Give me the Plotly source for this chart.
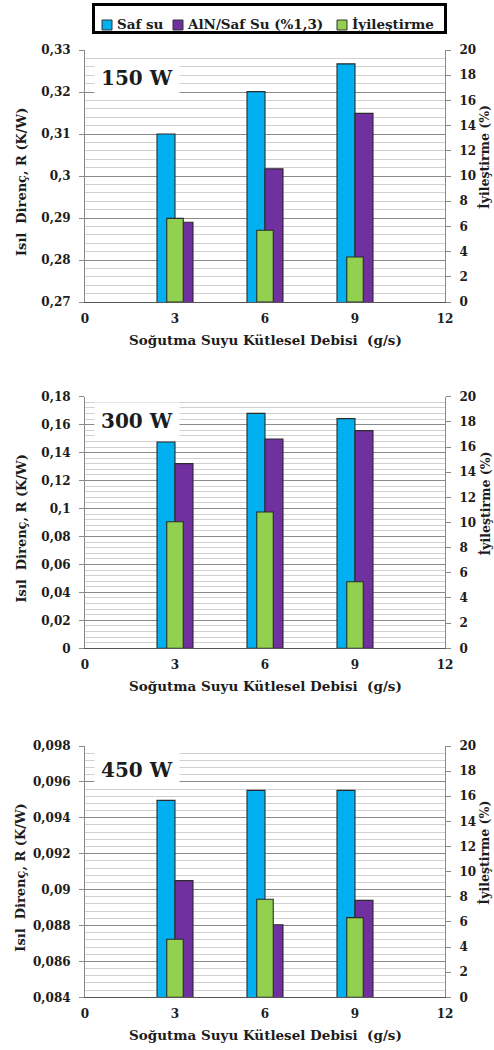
import plotly.graph_objects as go

# Cooling water mass flow rate (g/s)
flow = [3, 6, 9]

# Thermal resistance R (K/W) for pure water and AlN/water nanofluid, improvement (%)
saf_su_150 = [0.3100, 0.3201, 0.3267]
aln_150 = [0.2890, 0.3017, 0.3149]
iyil_150 = [6.64, 5.69, 3.57]

saf_su_300 = [0.1476, 0.1681, 0.1643]
aln_300 = [0.1321, 0.1497, 0.1557]
iyil_300 = [10.06, 10.83, 5.29]

saf_su_450 = [0.09497, 0.09553, 0.09553]
aln_450 = [0.0905, 0.08804, 0.0894]
iyil_450 = [4.62, 7.80, 6.34]

power_labels = ["150 W", "300 W", "450 W"]

# Left axis ticks per panel
r_ticks_150 = [0.27, 0.28, 0.29, 0.30, 0.31, 0.32, 0.33]
r_text_150 = ["0,27", "0,28", "0,29", "0,3", "0,31", "0,32", "0,33"]
r_ticks_300 = [0, 0.02, 0.04, 0.06, 0.08, 0.10, 0.12, 0.14, 0.16, 0.18]
r_text_300 = ["0", "0,02", "0,04", "0,06", "0,08", "0,1", "0,12", "0,14", "0,16", "0,18"]
r_ticks_450 = [0.084, 0.086, 0.088, 0.090, 0.092, 0.094, 0.096, 0.098]
r_text_450 = ["0,084", "0,086", "0,088", "0,09", "0,092", "0,094", "0,096", "0,098"]

x_ticks = [0, 3, 6, 9, 12]
pct_ticks = [0, 2, 4, 6, 8, 10, 12, 14, 16, 18, 20]

legend_names = ["Saf su", "AlN/Saf Su (%1,3)", "İyileştirme"]
colors = ["#00B0F0", "#7030A0", "#92D050"]

x_title = "Soğutma Suyu Kütlesel Debisi  (g/s)"
y_title = "Isıl  Direnç, R (K/W)"
y2_title = "İyileştirme (%)"

W, H = 494, 1050
FONT = "DejaVu Serif"
TXT = "#1c1c1c"


def px(x):
    return x / W


def py(y):
    return 1 - y / H


def label(text, x, y, size, angle=0, xanchor="center", **extra):
    return dict(text=text, x=px(x), y=py(y), xref="paper", yref="paper",
                xanchor=xanchor, yanchor="middle", showarrow=False, textangle=angle,
                font=dict(family=FONT, size=size, color=TXT, weight="bold"), **extra)


panels = [
    dict(saf=saf_su_150, aln=aln_150, imp=iyil_150, tv=r_ticks_150, tt=r_text_150,
         minor=0.002, top=50, bottom=302, label=power_labels[0], lab_y=78),
    dict(saf=saf_su_300, aln=aln_300, imp=iyil_300, tv=r_ticks_300, tt=r_text_300,
         minor=0.004, top=396.7, bottom=648.3, label=power_labels[1], lab_y=421),
    dict(saf=saf_su_450, aln=aln_450, imp=iyil_450, tv=r_ticks_450, tt=r_text_450,
         minor=0.0004, top=746, bottom=997.3, label=power_labels[2], lab_y=770),
]

fig = go.Figure()
layout = dict(
    width=W, height=H, margin=dict(l=0, r=0, t=0, b=0, autoexpand=False),
    paper_bgcolor="white", plot_bgcolor="white", showlegend=False,
    font=dict(family=FONT, color=TXT, size=12, weight="bold"),
)
annotations = []
shapes = []

x_left, x_right = 85, 445
tick_font = dict(family=FONT, size=12, color=TXT, weight="bold")

for i, p in enumerate(panels, start=1):
    xa = "x" if i == 1 else f"x{i}"
    ya = "y" if i == 1 else f"y{i}"
    j = i + 3
    ya2 = f"y{j}"
    line = dict(color="#2b2b2b", width=1.1)

    fig.add_trace(go.Bar(x=flow, y=p["saf"], xaxis=xa, yaxis=ya, name=legend_names[0],
                         marker=dict(color=colors[0], line=line), width=0.6, offset=-0.6,
                         base=0))
    fig.add_trace(go.Bar(x=flow, y=p["aln"], xaxis=xa, yaxis=ya, name=legend_names[1],
                         marker=dict(color=colors[1], line=line), width=0.6, offset=0.0,
                         base=0))
    fig.add_trace(go.Bar(x=flow, y=p["imp"], xaxis=xa, yaxis=ya2, name=legend_names[2],
                         marker=dict(color=colors[2], line=line), width=0.55, offset=-0.275))

    dom_y = [py(p["bottom"]), py(p["top"])]
    layout["xaxis" if i == 1 else f"xaxis{i}"] = dict(
        domain=[px(x_left), px(x_right)], anchor=ya, range=[0, 12], automargin=False,
        tickvals=x_ticks, ticktext=[str(v) for v in x_ticks], tickfont=tick_font,
        showgrid=False, zeroline=False, showline=True, linecolor="#555555", linewidth=1.2,
        ticks="", ticklabelstandoff=5,
    )
    layout["yaxis" if i == 1 else f"yaxis{i}"] = dict(
        domain=dom_y, anchor=xa, range=[p["tv"][0], p["tv"][-1]], automargin=False,
        tickvals=p["tv"], ticktext=p["tt"], tickfont=tick_font,
        showgrid=True, gridcolor="#8a8a8a", gridwidth=1,
        minor=dict(tickmode="linear", tick0=p["tv"][0], dtick=p["minor"],
                   showgrid=True, gridcolor="#d0d0d0", gridwidth=1),
        zeroline=False, showline=True, linecolor="#8a8a8a", linewidth=1,
        ticks="outside", ticklen=5, tickcolor="#8a8a8a", ticklabelstandoff=6,
    )
    layout[f"yaxis{j}"] = dict(
        domain=dom_y, anchor=xa, overlaying=ya, side="right", range=[0, 20], automargin=False,
        tickvals=pct_ticks, ticktext=[str(v) for v in pct_ticks], tickfont=tick_font,
        showgrid=False, zeroline=False, showline=True, linecolor="#8a8a8a", linewidth=1,
        ticks="outside", ticklen=5, tickcolor="#8a8a8a", ticklabelstandoff=6,
    )

    mid = (p["top"] + p["bottom"]) / 2
    # axis titles
    annotations.append(label(x_title, (x_left + x_right) / 2, p["bottom"] + 38, 13.5))
    annotations.append(label(y_title, 21, mid + 6, 13, angle=-90))
    annotations.append(label(y2_title, 485, mid - 19, 12.5, angle=-90))
    # power label
    annotations.append(label(p["label"], 137, p["lab_y"], 20, bgcolor="white", borderpad=6))

# legend box at top
shapes.append(dict(type="rect", xref="paper", yref="paper", x0=px(93.5), x1=px(445.5),
                   y0=py(32.5), y1=py(4.5), line=dict(color="black", width=3),
                   fillcolor="white", layer="below"))
leg_sq = [102, 173, 337]
leg_tx = [115, 185, 350]
for k in range(3):
    shapes.append(dict(type="rect", xref="paper", yref="paper", x0=px(leg_sq[k]),
                       x1=px(leg_sq[k] + 10), y0=py(30), y1=py(20),
                       line=dict(color="#333333", width=1), fillcolor=colors[k]))
    annotations.append(label(legend_names[k], leg_tx[k], 24.5, 13.5, xanchor="left"))

layout["annotations"] = annotations
layout["shapes"] = shapes
fig.update_layout(**layout)
fig.write_html("out.html")
